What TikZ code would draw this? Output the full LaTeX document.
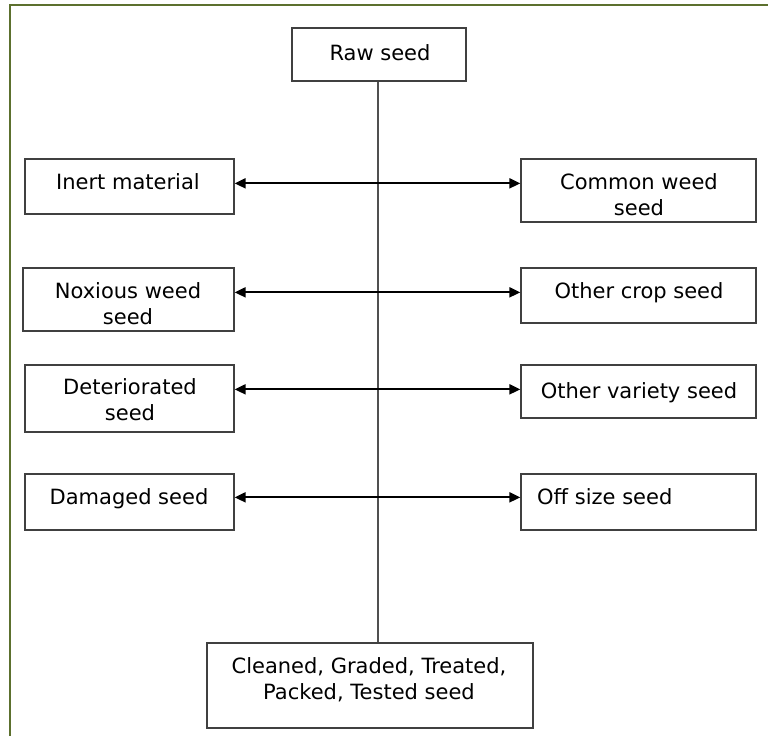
\documentclass[tikz,border=0pt]{standalone}
\usepackage{fontspec}
\setmainfont{DejaVu Sans}
\usetikzlibrary{arrows.meta}
\definecolor{frameolive}{RGB}{92,112,46}
\definecolor{boxgray}{RGB}{64,64,64}
\definecolor{stemgray}{RGB}{80,80,80}
\begin{document}
\begin{tikzpicture}[x=1pt,y=-1pt,
  box/.style={draw=boxgray,line width=1.3pt,rectangle,inner sep=0pt},
  lbl/.style={font=\fontsize{21}{26}\selectfont,inner sep=0pt,align=center,anchor=base},
  lbll/.style={font=\fontsize{21}{26}\selectfont,inner sep=0pt,anchor=base west},
  dbl/.style={{Triangle[length=11pt,width=10pt]}-{Triangle[length=11pt,width=10pt]},line width=2pt,black},
  stem/.style={draw=stemgray,line width=1.5pt}]
\useasboundingbox (0,0) rectangle (768,736);
\fill[white] (0,0) rectangle (768,736);
% frame
\draw[frameolive,line width=2.6pt] (10,736) -- (10,5) -- (768,5);
% boxes
\node[box,minimum width=174pt,minimum height=53pt] (raw) at (379,54.5) {};
\node[box,minimum width=209pt,minimum height=55pt] (inert) at (129.5,186.5) {};
\node[box,minimum width=235pt,minimum height=63pt] (common) at (638.5,190.5) {};
\node[box,minimum width=211pt,minimum height=63pt] (noxious) at (128.5,299.5) {};
\node[box,minimum width=235pt,minimum height=55pt] (crop) at (638.5,295.5) {};
\node[box,minimum width=209pt,minimum height=67pt] (deter) at (129.5,398.5) {};
\node[box,minimum width=235pt,minimum height=53pt] (variety) at (638.5,391.5) {};
\node[box,minimum width=209pt,minimum height=56pt] (damaged) at (129.5,502) {};
\node[box,minimum width=235pt,minimum height=56pt] (offsize) at (638.5,502) {};
\node[box,minimum width=326pt,minimum height=85pt] (final) at (370,685.5) {};
% labels (base anchor of a multi-line label is its last line)
\node[lbl] (t-raw) at (380,60) {Raw seed};
\node[lbl] (t-inert) at (128,189) {Inert material};
\node[lbl] (t-common) at (639,215) {Common weed\\seed};
\node[lbl] (t-noxious) at (128,324) {Noxious weed\\seed};
\node[lbl] (t-crop) at (639,298) {Other crop seed};
\node[lbl] (t-deter) at (130,420) {Deteriorated\\seed};
\node[lbl] (t-variety) at (639,398) {Other variety seed};
\node[lbl] (t-damaged) at (129,504) {Damaged seed};
\node[lbll] (t-offsize) at (537,504) {Off size seed};
\node[lbl] (t-final) at (369,699) {Cleaned, Graded, Treated,\\Packed, Tested seed};
% stem
\draw[stem] ([xshift=-1pt]raw.south) -- ([xshift=-1pt]raw.south |- final.north);
% arrows
\draw[dbl] ([yshift=-25pt]inert.north east) -- ([yshift=-25pt]inert.north east -| common.west);
\draw[dbl] ([yshift=-25pt]noxious.north east) -- ([yshift=-25pt]noxious.north east -| crop.west);
\draw[dbl] ([yshift=-25pt]deter.north east) -- ([yshift=-25pt]deter.north east -| variety.west);
\draw[dbl] ([yshift=-24pt]damaged.north east) -- ([yshift=-24pt]damaged.north east -| offsize.west);
\end{tikzpicture}
\end{document}
